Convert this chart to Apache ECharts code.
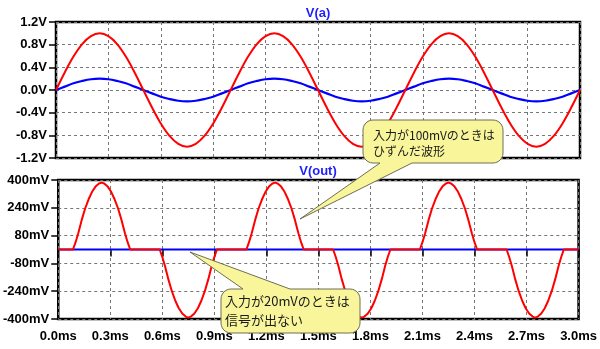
<!DOCTYPE html>
<html>
<head>
<meta charset="utf-8">
<script src="https://cdn.jsdelivr.net/npm/echarts@6/dist/echarts.min.js"></script>
<style>
  html, body { margin: 0; padding: 0; background: #fff; }
  #chart { width: 600px; height: 349px; }
</style>
</head>
<body>
<div id="chart"></div>
<script>
// Sample times (ms) for the input traces V(a)
const timeMs = [
  0, 0.05, 0.1, 0.15, 0.2, 0.25, 0.3, 0.35, 0.4, 0.45,
  0.5, 0.55, 0.6, 0.65, 0.7, 0.75, 0.8, 0.85, 0.9, 0.95,
  1.0, 1.05, 1.1, 1.15, 1.2, 1.25, 1.3, 1.35, 1.4, 1.45,
  1.5, 1.55, 1.6, 1.65, 1.7, 1.75, 1.8, 1.85, 1.9, 1.95,
  2.0, 2.05, 2.1, 2.15, 2.2, 2.25, 2.3, 2.35, 2.4, 2.45,
  2.5, 2.55, 2.6, 2.65, 2.7, 2.75, 2.8, 2.85, 2.9, 2.95,
  3.0
];

// V(a) with the larger input (V)
const vaLarge = [
  0, 0.31, 0.59, 0.81, 0.95, 1.0, 0.95, 0.81, 0.59, 0.31,
  0, -0.31, -0.59, -0.81, -0.95, -1.0, -0.95, -0.81, -0.59, -0.31,
  0, 0.31, 0.59, 0.81, 0.95, 1.0, 0.95, 0.81, 0.59, 0.31,
  0, -0.31, -0.59, -0.81, -0.95, -1.0, -0.95, -0.81, -0.59, -0.31,
  0, 0.31, 0.59, 0.81, 0.95, 1.0, 0.95, 0.81, 0.59, 0.31,
  0, -0.31, -0.59, -0.81, -0.95, -1.0, -0.95, -0.81, -0.59, -0.31,
  0
];

// V(a) with the small input (V)
const vaSmall = [
  0, 0.06, 0.12, 0.16, 0.19, 0.2, 0.19, 0.16, 0.12, 0.06,
  0, -0.06, -0.12, -0.16, -0.19, -0.2, -0.19, -0.16, -0.12, -0.06,
  0, 0.06, 0.12, 0.16, 0.19, 0.2, 0.19, 0.16, 0.12, 0.06,
  0, -0.06, -0.12, -0.16, -0.19, -0.2, -0.19, -0.16, -0.12, -0.06,
  0, 0.06, 0.12, 0.16, 0.19, 0.2, 0.19, 0.16, 0.12, 0.06,
  0, -0.06, -0.12, -0.16, -0.19, -0.2, -0.19, -0.16, -0.12, -0.06,
  0
];

// Sample times (ms) for V(out) with the larger input
const outTimes = [
  0,
  0.085, 0.1, 0.115, 0.135, 0.155, 0.175, 0.195, 0.215, 0.235, 0.25,
  0.265, 0.285, 0.305, 0.325, 0.345, 0.365, 0.385, 0.4, 0.415,
  0.585, 0.6, 0.615, 0.635, 0.655, 0.675, 0.695, 0.715, 0.735, 0.75,
  0.765, 0.785, 0.805, 0.825, 0.845, 0.865, 0.885, 0.9, 0.915,
  1.085, 1.1, 1.115, 1.135, 1.155, 1.175, 1.195, 1.215, 1.235, 1.25,
  1.265, 1.285, 1.305, 1.325, 1.345, 1.365, 1.385, 1.4, 1.415,
  1.585, 1.6, 1.615, 1.635, 1.655, 1.675, 1.695, 1.715, 1.735, 1.75,
  1.765, 1.785, 1.805, 1.825, 1.845, 1.865, 1.885, 1.9, 1.915,
  2.085, 2.1, 2.115, 2.135, 2.155, 2.175, 2.195, 2.215, 2.235, 2.25,
  2.265, 2.285, 2.305, 2.325, 2.345, 2.365, 2.385, 2.4, 2.415,
  2.585, 2.6, 2.615, 2.635, 2.655, 2.675, 2.695, 2.715, 2.735, 2.75,
  2.765, 2.785, 2.805, 2.825, 2.845, 2.865, 2.885, 2.9, 2.915,
  3.0
];

// V(out) with the larger input (mV)
const voutLarge = [
  0,
  0, 42, 92, 169, 236, 289, 332, 362, 380, 385,
  380, 362, 332, 289, 236, 169, 92, 42, 0,
  0, -43, -94, -172, -240, -295, -338, -368, -386, -392,
  -386, -368, -338, -295, -240, -172, -94, -43, 0,
  0, 42, 92, 169, 236, 289, 332, 362, 380, 385,
  380, 362, 332, 289, 236, 169, 92, 42, 0,
  0, -43, -94, -172, -240, -295, -338, -368, -386, -392,
  -386, -368, -338, -295, -240, -172, -94, -43, 0,
  0, 42, 92, 169, 236, 289, 332, 362, 380, 385,
  380, 362, 332, 289, 236, 169, 92, 42, 0,
  0, -43, -94, -172, -240, -295, -338, -368, -386, -392,
  -386, -368, -338, -295, -240, -172, -94, -43, 0,
  0
];

// V(out) with the small input stays at 0 mV
const outTimesSmall = [0, 3.0];
const voutSmall = [0, 0];

const LABEL_FONT = 'Liberation Sans, Arial, sans-serif';
const CJK_FONT = '"Noto Sans CJK JP", sans-serif';

function pairs(xs, ys) { return xs.map((x, i) => [x, ys[i]]); }

const dashed = { show: true, lineStyle: { color: '#777', type: [3, 3], width: 1 } };
const tick = { show: true, length: 7, lineStyle: { color: '#000', width: 1.5 } };
const labelStyle = { color: '#000', fontFamily: LABEL_FONT, fontWeight: 'bold', fontSize: 13 };

// Quarter-circle corner points, from angle a0 to a1 (radians)
function arc(cx, cy, r, a0, a1) {
  const pts = [];
  const n = 6;
  for (let i = 0; i <= n; i++) {
    const a = a0 + (a1 - a0) * i / n;
    pts.push([cx + r * Math.cos(a), cy + r * Math.sin(a)]);
  }
  return pts;
}

// Speech-bubble outline: rounded box plus a pointer leaving its top or bottom edge
function bubblePoints(x, y, w, h, r, edge, b1, b2, tip) {
  const R = x + w, B = y + h, P = Math.PI;
  let pts = [];
  pts = pts.concat(arc(x + r, y + r, r, P, 1.5 * P));          // top-left
  if (edge === 'top') pts.push([b1, y], tip, [b2, y]);
  pts = pts.concat(arc(R - r, y + r, r, 1.5 * P, 2 * P));      // top-right
  pts = pts.concat(arc(R - r, B - r, r, 0, 0.5 * P));          // bottom-right
  if (edge === 'bottom') pts.push([b2, B], tip, [b1, B]);
  pts = pts.concat(arc(x + r, B - r, r, 0.5 * P, P));          // bottom-left
  return pts;
}

const bubbleStyle = { fill: '#f9f59a', stroke: '#6e6e55', lineWidth: 1 };

const option = {
  animation: false,
  backgroundColor: '#fff',
  grid: [
    { left: 56, top: 22, width: 524, height: 136, show: true, borderColor: '#000', borderWidth: 2.5, backgroundColor: 'transparent' },
    { left: 56, top: 180, width: 524, height: 139, show: true, borderColor: '#000', borderWidth: 2.5, backgroundColor: 'transparent' }
  ],
  xAxis: [
    { type: 'value', gridIndex: 0, min: 0, max: 3, interval: 0.3,
      axisLine: { show: false }, axisTick: { show: false }, axisLabel: { show: false }, splitLine: dashed },
    { type: 'value', gridIndex: 1, min: 0, max: 3, interval: 0.3,
      axisLine: { show: false }, axisTick: tick, splitLine: dashed,
      axisLabel: Object.assign({ margin: 11, formatter: v => v.toFixed(1) + 'ms' }, labelStyle) }
  ],
  yAxis: [
    { type: 'value', gridIndex: 0, min: -1.2, max: 1.2, interval: 0.4,
      axisLine: { show: false }, axisTick: tick, splitLine: dashed,
      axisLabel: Object.assign({ margin: 9, formatter: v => (Math.abs(v) < 1e-9 ? 0 : v).toFixed(1) + 'V' }, labelStyle) },
    { type: 'value', gridIndex: 1, min: -400, max: 400, interval: 160,
      axisLine: { show: false }, axisTick: tick, splitLine: dashed,
      axisLabel: Object.assign({ margin: 9, formatter: v => Math.round(v) + 'mV' }, labelStyle) }
  ],
  series: [
    { type: 'line', xAxisIndex: 0, yAxisIndex: 0, data: pairs(timeMs, vaSmall), smooth: 0.35,
      showSymbol: false, lineStyle: { color: '#0000ff', width: 2.2 } },
    { type: 'line', xAxisIndex: 0, yAxisIndex: 0, data: pairs(timeMs, vaLarge), smooth: 0.35,
      showSymbol: false, lineStyle: { color: '#ff0000', width: 2 } },
    { type: 'line', xAxisIndex: 1, yAxisIndex: 1, data: pairs(outTimesSmall, voutSmall),
      showSymbol: false, lineStyle: { color: '#0000ff', width: 2.2 } },
    { type: 'line', xAxisIndex: 1, yAxisIndex: 1, data: pairs(outTimes, voutLarge),
      showSymbol: false, lineStyle: { color: '#ff0000', width: 2 } }
  ],
  graphic: [
    { type: 'text', z: 100, style: { text: 'V(a)', x: 318, y: 13, textAlign: 'center', textVerticalAlign: 'middle',
      font: 'bold 13px ' + LABEL_FONT, fill: '#1e1eff' } },
    { type: 'text', z: 100, style: { text: 'V(out)', x: 318, y: 171, textAlign: 'center', textVerticalAlign: 'middle',
      font: 'bold 13px ' + LABEL_FONT, fill: '#1e1eff' } },
    { type: 'polygon', z: 100, shape: { points: bubblePoints(363, 120, 140, 43, 10, 'bottom', 380, 412, [300, 219]) },
      style: bubbleStyle },
    { type: 'text', z: 101, style: { text: '入力が100mVのときは\nひずんだ波形', x: 373, y: 127, lineHeight: 16,
      font: '12px ' + CJK_FONT, fill: '#1a1a1a', textVerticalAlign: 'top' } },
    { type: 'polygon', z: 100, shape: { points: bubblePoints(221, 289, 139, 44, 10, 'top', 243, 290, [190, 252]) },
      style: bubbleStyle },
    { type: 'text', z: 101, style: { text: '入力が20mVのときは\n信号が出ない', x: 225, y: 291, lineHeight: 19.5,
      font: '13px ' + CJK_FONT, fill: '#1a1a1a', textVerticalAlign: 'top' } }
  ]
};

const chart = echarts.init(document.getElementById('chart'), null, { renderer: 'canvas' });
chart.setOption(option);
</script>
</body>
</html>
